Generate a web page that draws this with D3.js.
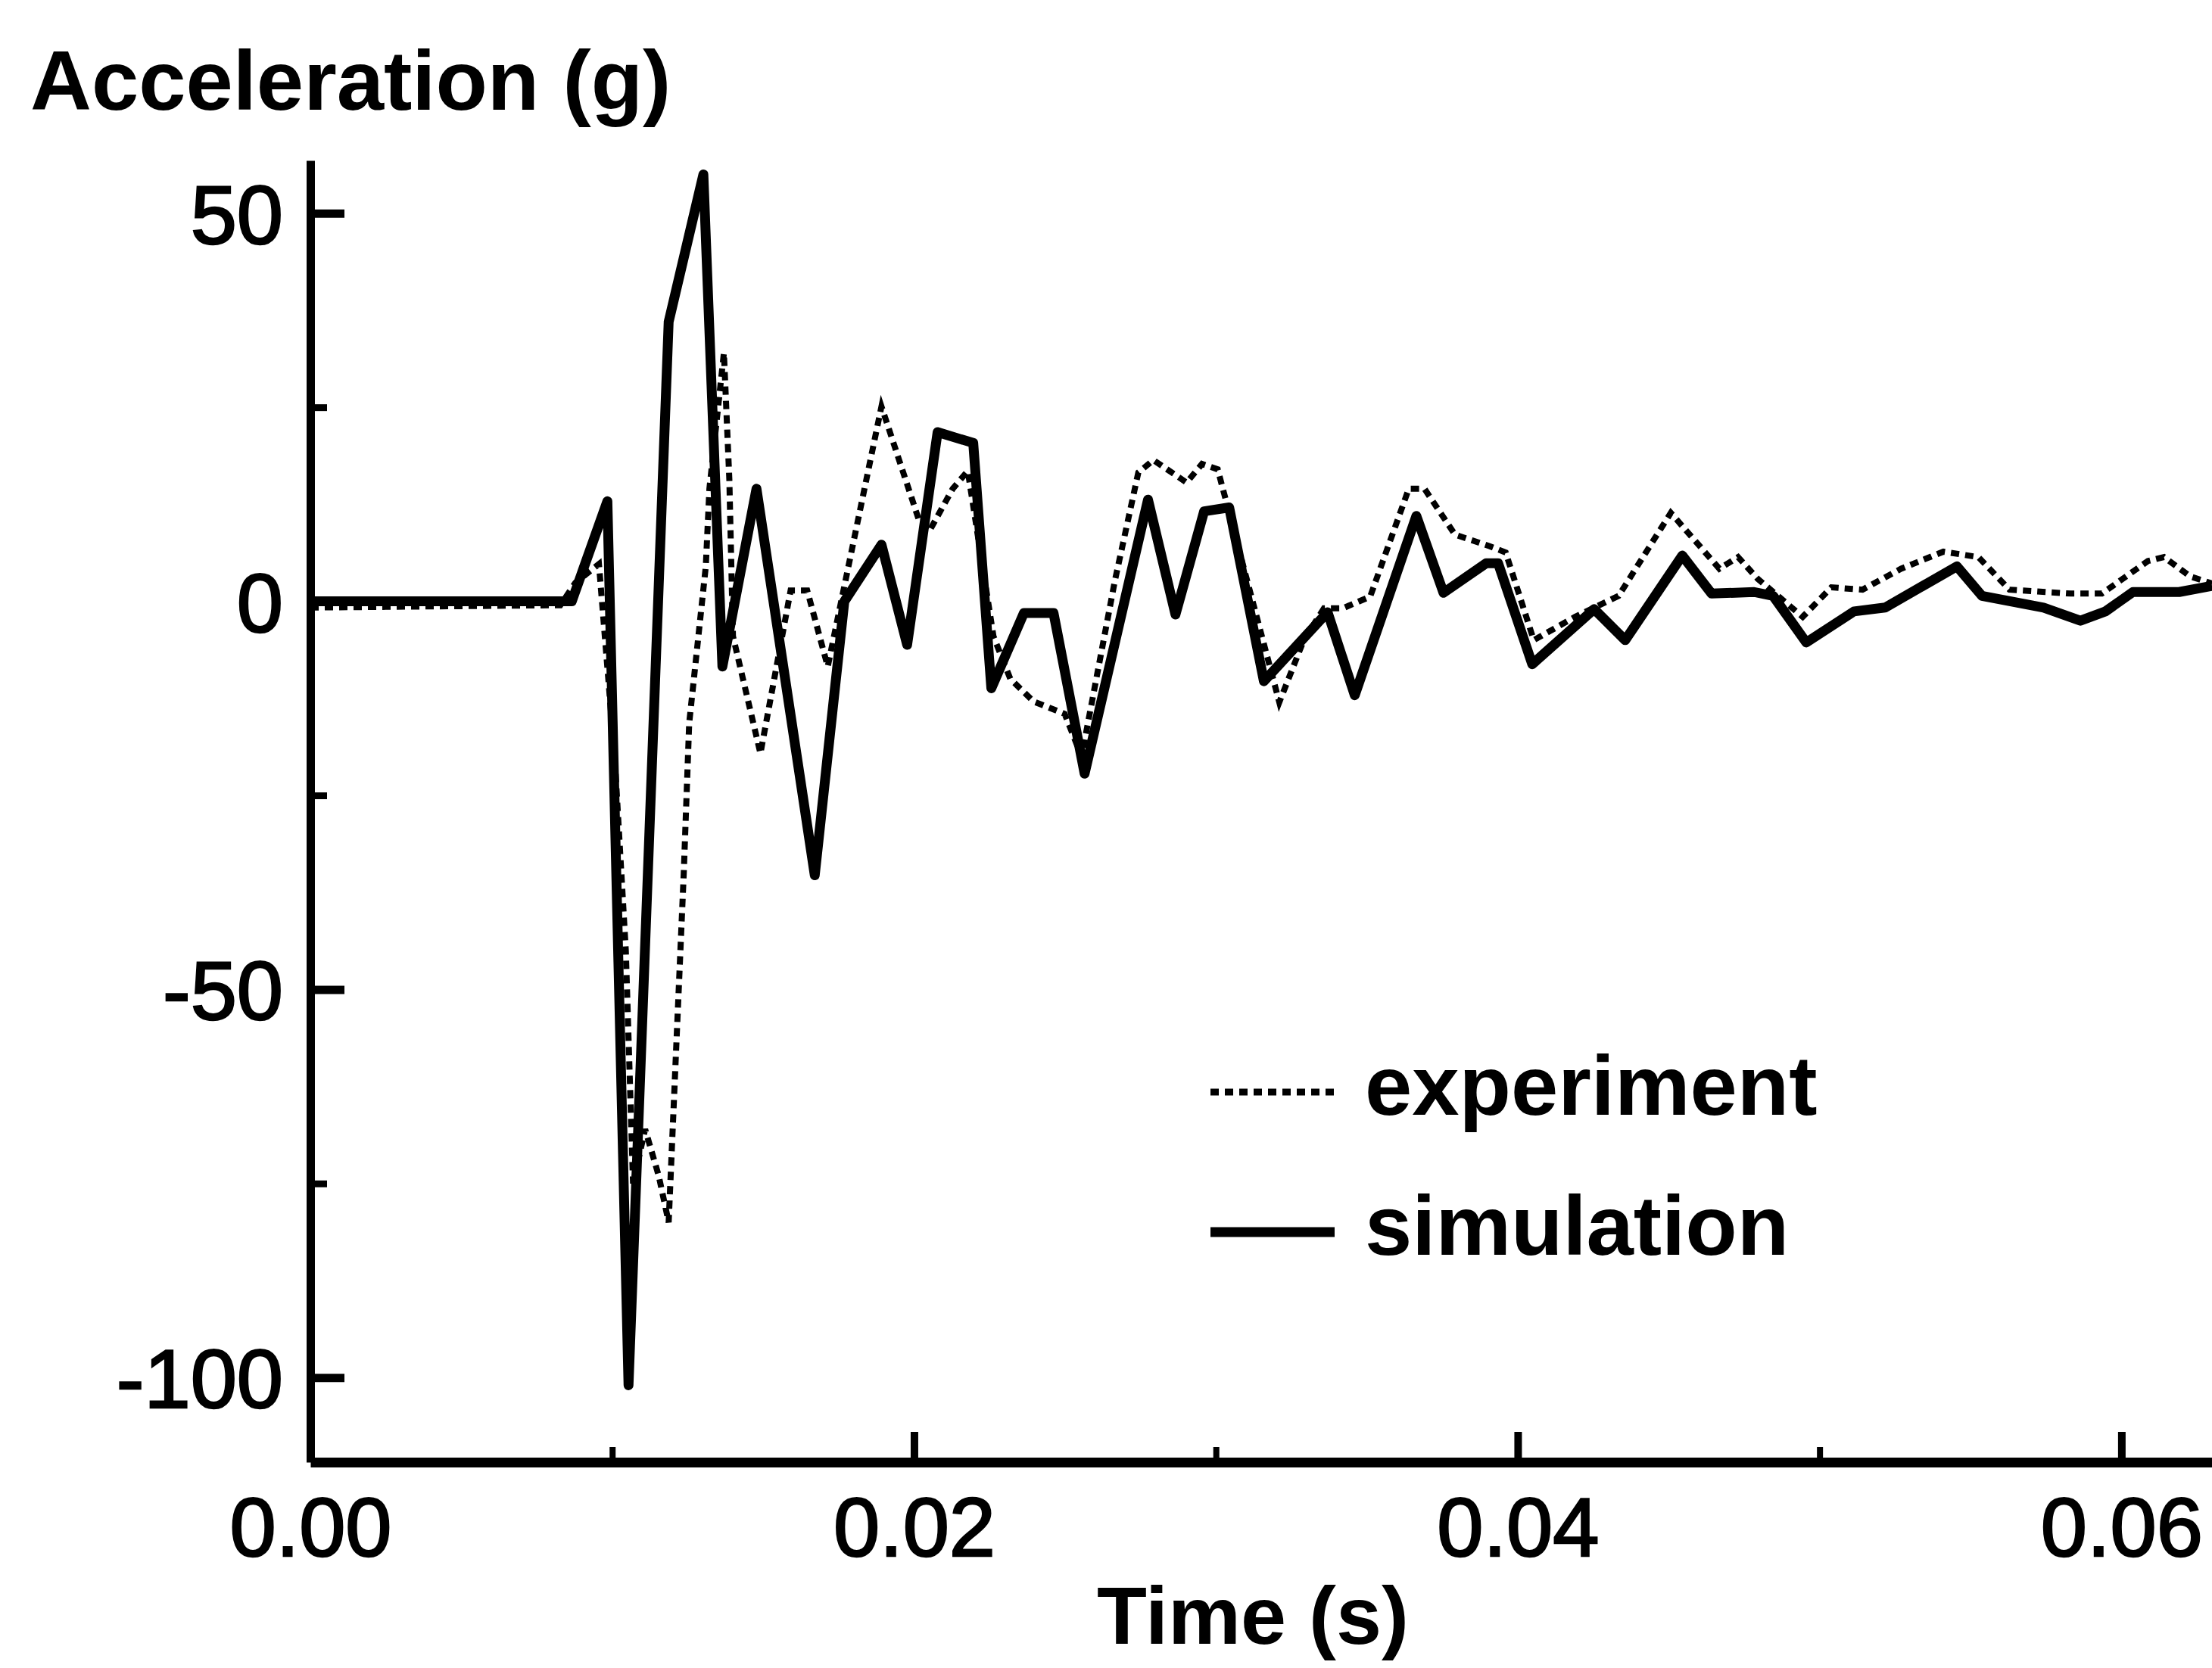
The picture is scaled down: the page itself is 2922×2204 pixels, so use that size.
<!DOCTYPE html>
<html>
<head>
<meta charset="utf-8">
<script src="https://cdnjs.cloudflare.com/ajax/libs/d3/7.8.5/d3.min.js"></script>
<style>
  body { margin: 0; background: #fff; }
  svg { display: block; }
  text { font-family: "Liberation Sans", Arial, Helvetica, sans-serif; fill: #000; }
</style>
</head>
<body>
<div id="chart"></div>
<script>
// data (time in s, acceleration in g)
var simTime = [0, 0.00866, 0.00984, 0.01054, 0.01187, 0.01302, 0.01365, 0.01478, 0.01671, 0.01769,
    0.01892, 0.01977, 0.02078, 0.02196, 0.02256, 0.02364, 0.02462, 0.02565, 0.02775, 0.02866,
    0.02961, 0.03044, 0.03159, 0.03370, 0.03460, 0.03664, 0.03754, 0.03895, 0.03935, 0.04048,
    0.04253, 0.04356, 0.04545, 0.04642, 0.04783, 0.04846, 0.04956, 0.05114, 0.05217, 0.05455,
    0.05538, 0.05742, 0.05864, 0.05947, 0.06038, 0.06191, 0.06300];
var simAccel = [0, 0, 12.9, -101, 36, 55, -8.4, 14.5, -35.3, 0,
    7.3, -5.6, 21.8, 20.4, -11.2, -1.5, -1.5, -22.2, 13.1, -1.7,
    11.6, 12.1, -10.3, -1.4, -12.1, 11, 1.1, 4.9, 4.9, -8.1,
    -1, -5, 5.9, 1, 1.2, 0.7, -5.3, -1.3, -0.8, 4.5,
    0.7, -0.8, -2.5, -1.3, 1.2, 1.2, 2];

var expTime = [0, 0.00828, 0.00878, 0.00956, 0.01008, 0.01045, 0.01069, 0.01109, 0.01154, 0.01187,
    0.01237, 0.01255, 0.01310, 0.01322, 0.01370, 0.01388, 0.01400, 0.01491, 0.01591, 0.01646,
    0.01714, 0.01892, 0.02015, 0.02050, 0.02128, 0.02178, 0.02263, 0.02319, 0.02396, 0.02499,
    0.02555, 0.02665, 0.02743, 0.02793, 0.02903, 0.02954, 0.03006, 0.03210, 0.03292, 0.03358,
    0.03420, 0.03511, 0.03639, 0.03691, 0.03792, 0.03907, 0.03960, 0.04053, 0.04190, 0.04334,
    0.04507, 0.04668, 0.04730, 0.04795, 0.04944, 0.05039, 0.05142, 0.05270, 0.05410, 0.05526,
    0.05629, 0.05832, 0.05935, 0.06088, 0.06141, 0.06228, 0.06300];
var expAccel = [-0.8, -0.5, 2.4, 4.8, -20, -45, -75, -68, -74, -80,
    -35, -15.7, 4.5, 14.5, 32, 15.7, -4.5, -19.6, 1.4, 1.4,
    -8.4, 25.1, 10.6, 9, 14.5, 16.8, -4.5, -10, -12.9, -14.5,
    -20, 2.6, 16.6, 18.2, 15.3, 17.7, 17, -13, -4.9, -0.9,
    -0.9, 0.6, 14.5, 14.5, 8.6, 7.1, 6.3, -5, -2, 0.7,
    11.4, 4.2, 5.7, 2.9, -2, 1.8, 1.5, 4.2, 6.4, 5.7,
    1.5, 1, 1, 5.2, 5.7, 3.2, 2.3];

var xMajorTicks = [0, 0.02, 0.04, 0.06];
var xMinorTicks = [0.01, 0.03, 0.05];
var yMajorTicks = [-100, -50, 0, 50];
var yMinorTicks = [-75, -25, 25];

var legendNames = ['experiment', 'simulation'];

var svgWidth = 2922;
var svgHeight = 2204;

var svg = d3.select('#chart')
    .append('svg')
    .attr('width', svgWidth)
    .attr('height', svgHeight);

// scales (pixel frame taken from the scanned figure)
var xScale = d3.scaleLinear()
    .domain([0, 0.0630])
    .range([410, 2922]);

var yScale = d3.scaleLinear()
    .domain([-110.9, 56.8])
    .range([1932, 212]);

var fontFamily = '"Liberation Sans", Arial, Helvetica, sans-serif';

// x axis
var xAxis = svg.append('g')
    .attr('transform', `translate(0, ${yScale.range()[0]})`)
    .call(d3.axisBottom(xScale)
        .tickValues(xMajorTicks)
        .tickSize(-40)
        .tickSizeOuter(0)
        .tickPadding(46)
        .tickFormat(d3.format('.2f')));

xAxis.select('.domain').attr('stroke-width', 13);
xAxis.selectAll('.tick line').attr('stroke-width', 10);
xAxis.selectAll('.tick text')
    .attr('font-size', 110)
    .attr('font-family', fontFamily)
    .attr('stroke', '#000')
    .attr('stroke-width', 2.5);

svg.append('g')
    .attr('transform', `translate(0, ${yScale.range()[0]})`)
    .call(d3.axisBottom(xScale)
        .tickValues(xMinorTicks)
        .tickSize(-20)
        .tickFormat(''))
    .call(g => g.select('.domain').remove())
    .selectAll('.tick line').attr('stroke-width', 8);

// y axis
var yAxis = svg.append('g')
    .attr('transform', `translate(${xScale(0)}, 0)`)
    .call(d3.axisLeft(yScale)
        .tickValues(yMajorTicks)
        .tickSize(-45)
        .tickSizeOuter(0)
        .tickPadding(36)
        .tickFormat(d => String(d)));

yAxis.select('.domain').attr('stroke-width', 11);
yAxis.selectAll('.tick line').attr('stroke-width', 11);
yAxis.selectAll('.tick text')
    .attr('font-size', 110)
    .attr('font-family', fontFamily)
    .attr('dy', '0.36em')
    .attr('stroke', '#000')
    .attr('stroke-width', 2.5);

svg.append('g')
    .attr('transform', `translate(${xScale(0)}, 0)`)
    .call(d3.axisLeft(yScale)
        .tickValues(yMinorTicks)
        .tickSize(-22)
        .tickFormat(''))
    .call(g => g.select('.domain').remove())
    .selectAll('.tick line').attr('stroke-width', 9);

// lines
var line = d3.line()
    .x(d => xScale(d[0]))
    .y(d => yScale(d[1]));

var expData = expTime.map((t, i) => [t, expAccel[i]]);
var simData = simTime.map((t, i) => [t, simAccel[i]]);

svg.append('path')
    .datum(expData)
    .attr('d', line)
    .attr('fill', 'none')
    .attr('stroke', '#000')
    .attr('stroke-width', 8)
    .attr('stroke-dasharray', '11 8');

svg.append('path')
    .datum(simData)
    .attr('d', line)
    .attr('fill', 'none')
    .attr('stroke', '#000')
    .attr('stroke-width', 13)
    .attr('stroke-linejoin', 'round');

// axis titles
svg.append('text')
    .attr('x', 40)
    .attr('y', 145)
    .attr('font-size', 112)
    .attr('font-weight', 'bold')
    .text('Acceleration (g)');

svg.append('text')
    .attr('x', 1655)
    .attr('y', 2172)
    .attr('text-anchor', 'middle')
    .attr('font-size', 108)
    .attr('font-weight', 'bold')
    .text('Time (s)');

// legend
var legend = svg.append('g');
var legendRows = [1443, 1628];

legendNames.forEach(function(name, i) {
    legend.append('line')
        .attr('x1', 1599)
        .attr('x2', 1763)
        .attr('y1', legendRows[i])
        .attr('y2', legendRows[i])
        .attr('stroke', '#000')
        .attr('stroke-width', i === 0 ? 9 : 13)
        .attr('stroke-dasharray', i === 0 ? '11 8' : null);

    legend.append('text')
        .attr('x', 1803)
        .attr('y', legendRows[i] + 30)
        .attr('font-size', 112)
        .attr('font-weight', 'bold')
        .text(name);
});
</script>
</body>
</html>
